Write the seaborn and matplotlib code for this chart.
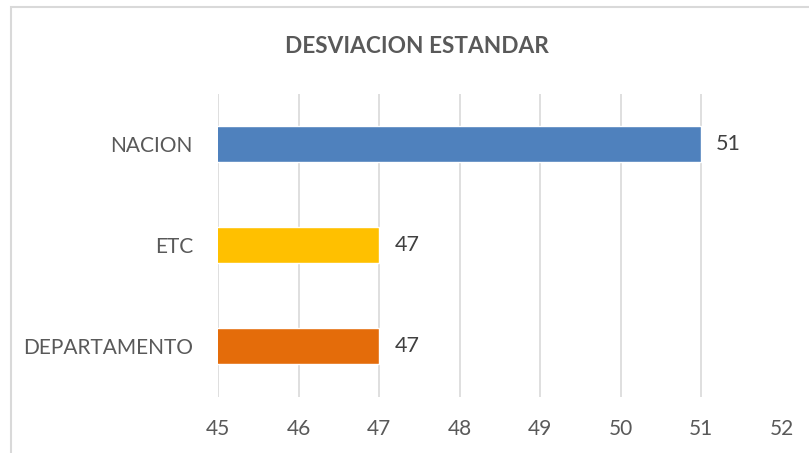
import matplotlib
matplotlib.use('Agg')
import matplotlib.pyplot as plt
import seaborn as sns
import pandas as pd
from matplotlib.patches import Rectangle

# DATA
categorias = ['NACION', 'ETC', 'DEPARTAMENTO']
valores = [51, 47, 47]
colores = ['#4F81BD', '#FFC000', '#E46C0A']
ticks_x = [45, 46, 47, 48, 49, 50, 51, 52]

df = pd.DataFrame({'categoria': categorias, 'valor': valores})

sns.set_theme(style='white')
plt.rcParams['font.family'] = ['Lato', 'DejaVu Sans']
gris = '#595959'

fig = plt.figure(figsize=(8.09, 4.53), dpi=100)
W, H = 809, 453
ax = fig.add_axes([218 / W, 1 - 396.5 / H, (781.5 - 218) / W, (396.5 - 93.5) / H])

sns.barplot(data=df, y='categoria', x='valor', hue='categoria', palette=colores,
            order=categorias, orient='h', width=0.36, legend=False, ax=ax,
            saturation=1)

ax.set_xlim(45, 52)
ax.set_xticks(ticks_x)
ax.set_xlabel('')
ax.set_ylabel('')
ax.grid(axis='x', color='#D9D9D9', linewidth=1.2)
ax.set_axisbelow(True)
for s in ax.spines.values():
    s.set_visible(False)
ax.tick_params(axis='both', length=0, labelsize=15, colors=gris)
ax.tick_params(axis='y', pad=18)
ax.tick_params(axis='x', pad=16)

for cont in ax.containers:
    ax.bar_label(cont, fmt='%d', padding=11, fontsize=15.5, color='#404040')

fig.text(417 / W, 1 - 46.5 / H, 'DESVIACION ESTANDAR', ha='center', va='center',
         fontsize=16.3, fontweight='bold', color=gris)

# borde del area del grafico
fig.patches.append(Rectangle((11 / W, -0.1), 1.2, 1 - 7 / H + 0.1, transform=fig.transFigure,
                             fill=False, edgecolor='#D9D9D9', linewidth=1.5))

fig.savefig('out.png', dpi=100)
